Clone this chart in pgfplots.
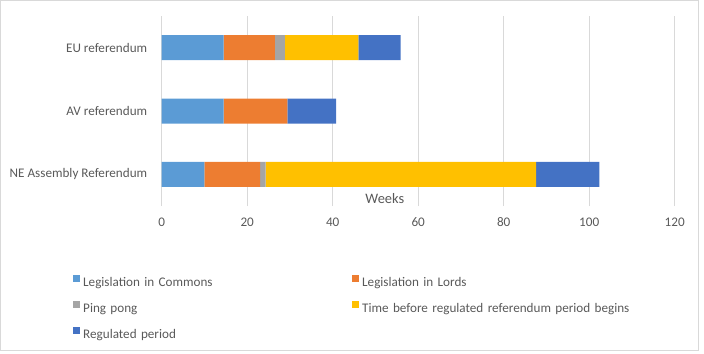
\documentclass[border=0pt]{standalone}
\usepackage{pgfplots}
\pgfplotsset{compat=1.18}
\usepackage{fontspec}
\setmainfont{Carlito}
\definecolor{cCommons}{HTML}{5B9BD5}
\definecolor{cLords}{HTML}{ED7D31}
\definecolor{cPing}{HTML}{A5A5A5}
\definecolor{cTime}{HTML}{FFC000}
\definecolor{cReg}{HTML}{4472C4}
\definecolor{gridc}{HTML}{D9D9D9}
\definecolor{textc}{HTML}{595959}
\begin{document}
\begin{tikzpicture}
\useasboundingbox (0bp,0bp) rectangle (704bp,354bp);
\draw[gridc, line width=0.75bp] (0.5bp,3.5bp) rectangle (698.5bp,353.5bp);
\begin{axis}[
  at={(161.7bp,148bp)}, anchor=south west,
  scale only axis, width=513bp, height=190bp,
  xbar stacked, bar width=25bp,
  xmin=0, xmax=120, ymin=-0.5, ymax=2.5,
  xtick={0,20,...,120},
  ytick={0,1,2},
  yticklabels={NE Assembly Referendum, AV referendum, EU referendum},
  xmajorgrids, ymajorgrids=false,
  major grid style={gridc, line width=0.75bp},
  axis line style={draw=none},
  major tick length=0pt,
  tick label style={font=\fontsize{13.2}{15}\selectfont, text=textc},
  /pgf/number format/assume math mode=true,
  xticklabel style={yshift=-8bp},
  yticklabel style={xshift=-11bp},
  legend columns=2,
  legend cell align=left,
  legend style={
    at={(-0.1729,-0.362)}, anchor=north west,
    draw=none, fill=none, inner sep=0pt,
    column sep=3bp, row sep=11bp,
    font=\fontsize{13.2}{15}\selectfont, text=textc,
    nodes={inner sep=0pt, text height=9bp, text depth=3bp, text width=266bp, align=left},
  },
  legend image code/.code={\fill[#1] (0bp,2bp) rectangle (7bp,9bp);},
]
\addplot[fill=cCommons, draw=none] coordinates {(10,0) (14.5,1) (14.5,2)};
\addplot[fill=cLords, draw=none] coordinates {(13,0) (14.9,1) (12,2)};
\addplot[fill=cPing, draw=none] coordinates {(1.3,0) (0,1) (2.3,2)};
\addplot[fill=cTime, draw=none] coordinates {(63.3,0) (0,1) (17.2,2)};
\addplot[fill=cReg, draw=none] coordinates {(14.8,0) (11.4,1) (9.9,2)};
\legend{Legislation in Commons, Legislation in Lords, Ping pong, \mbox{Time before regulated referendum period begins}, Regulated period}
\node[text=textc, font=\fontsize{14.5}{16}\selectfont] at (axis cs:52.2,-0.39) {Weeks};
\end{axis}
\end{tikzpicture}
\end{document}
